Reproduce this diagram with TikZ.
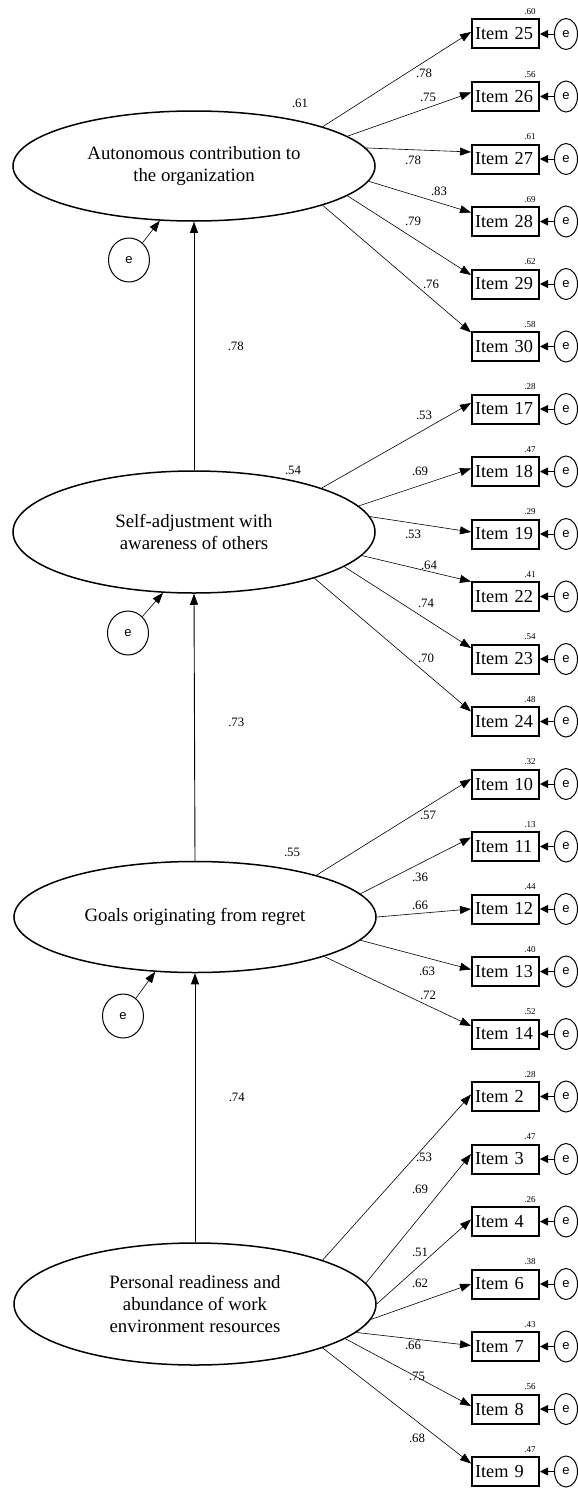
\documentclass[tikz,border=0pt]{standalone}
\usepackage{fontspec}
\setmainfont{Liberation Serif}
\setsansfont{Liberation Sans}
\usetikzlibrary{arrows.meta,shapes.geometric}

\begin{document}
\begin{tikzpicture}[x=1pt,y=-1pt,
  latent/.style={ellipse,draw=black,line width=1.5pt,minimum width=362pt,
    align=center,font=\fontsize{18.8}{21.8}\selectfont},
  item/.style={rectangle,draw=black,line width=2pt,text width=61pt,align=left,
    inner xsep=3pt,inner ysep=0pt,minimum height=29pt,font=\fontsize{18.3}{20}\selectfont},
  err/.style={ellipse,draw=black,line width=1pt,inner sep=0pt,
    minimum width=23pt,minimum height=31pt,font=\sffamily\fontsize{13}{13}\selectfont},
  to/.style={-{Triangle[length=11pt,width=8pt]},line width=0.6pt},
  eto/.style={-{Triangle[length=8pt,width=8pt]},line width=0.8pt},
  coef/.style={font=\fontsize{12.8}{13}\selectfont},
  rsq/.style={font=\fontsize{9}{9}\selectfont}]

  \useasboundingbox (0,0) rectangle (578,1488);

  % latent factors
  \node[latent,minimum height=110pt] (auto) at (194,166) {Autonomous contribution to\\the organization};
  \node[latent,minimum height=122pt] (self) at (194,532) {Self-adjustment with\\awareness of others};
  \node[latent,minimum height=111pt] (goal) at (195,917) {Goals originating from regret};
  \node[latent,minimum height=122pt] (pers) at (195,1304) {Personal readiness and\\abundance of work\\environment resources};

  \path (self.north) edge[to,line width=0.9pt] node[coef,pos=0.5,right=30pt] (p1) {.78} (auto.south);
  \path (goal.north) edge[to,line width=0.9pt] node[coef,pos=0.52,right=30pt] (p2) {.73} (self.south);
  \path (pers.north) edge[to,line width=0.9pt] node[coef,pos=0.54,right=30pt] (p3) {.74} (goal.south);

  \node[coef] (r1) at (300,103) {.61};
  \node[coef] (r2) at (293,470) {.54};
  \node[coef] (r3) at (292,852) {.55};

  \node[err,minimum width=41pt,minimum height=44pt] (e1) at (129,260) {e};
  \node[err,minimum width=41pt,minimum height=44pt] (e2) at (128,633) {e};
  \node[err,minimum width=41pt,minimum height=44pt] (e3) at (123,1016) {e};
  \draw[to] (e1) -- (auto.-122);
  \draw[to] (e2) -- (self.-117);
  \draw[to] (e3) -- (goal.-126);

  % observed items
  \foreach \n/\rs [count=\k from 0] in {25/.60,26/.56,27/.61,28/.69,29/.62,30/.58,
      17/.28,18/.47,19/.29,22/.41,23/.54,24/.48,10/.32,11/.13,12/.44,13/.40,14/.52,
      2/.28,3/.47,4/.26,6/.38,7/.43,8/.56,9/.47} {
    \node[item] (i\n) at (505.5,34+62.5*\k) {Item \n};
    \node[err] (ei\n) at (566,34+62.5*\k) {e};
    \node[rsq] (s\n) at (530,12+62.5*\k) {\rs};
    \draw[eto] (ei\n) -- (i\n);
  }

  % loadings
  \foreach \lat/\ang/\n/\sh/\v/\lx/\ly in {
      auto/17/25/2/.78/424/73, auto/11/26/4/.75/428/97, auto/6/27/7/.78/413/160,
      auto/-5/28/9/.83/439/191, auto/-11/29/9/.79/413/221, auto/-17/30/14/.76/431/284,
      self/19/17/6/.53/424/415, self/9/18/3/.69/420/471, self/5/19/2/.53/413/534,
      self/-8/22/15/.64/429/565, self/-13/23/11/.74/426/603, self/-21/24/10/.70/426/658,
      goal/19/10/5/.57/428/815, goal/8/11/9/.36/420/877, goal/0/12/0/.66/420/905,
      goal/-8/13/2/.63/427/971, goal/-17/14/8/.72/428/995,
      pers/19/2/2/.53/424/1157, pers/7/3/5/.69/420/1189, pers/0/4/2/.51/420/1252,
      pers/-5/6/0/.62/420/1283, pers/-10/7/1/.66/413/1345, pers/-13/8/3/.75/417/1376,
      pers/-19/9/8/.68/417/1438} {
    \draw[to] (\lat.\ang) -- ([yshift=\sh pt]i\n.west);
    \node[coef] (l\n) at (\lx,\ly) {\v};
  }
\end{tikzpicture}
\end{document}
